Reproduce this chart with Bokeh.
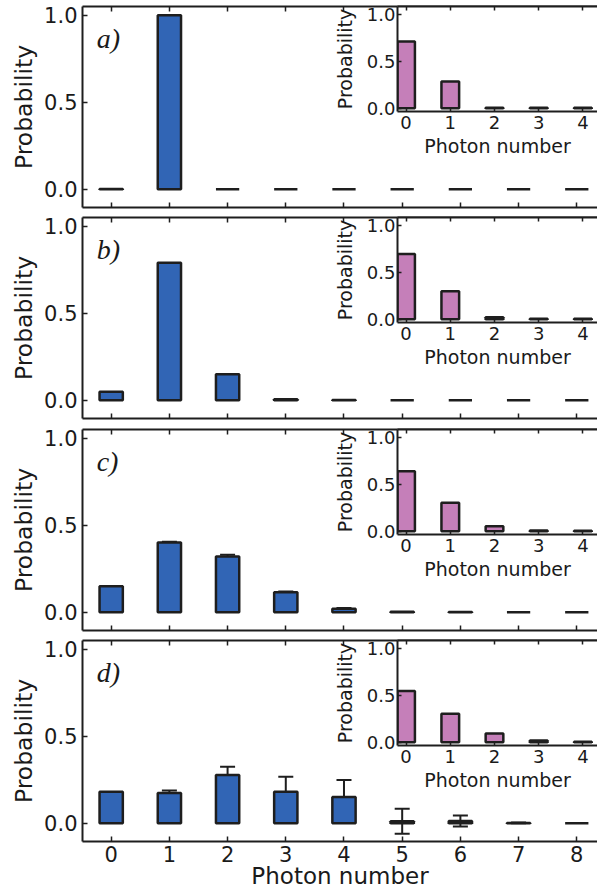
from bokeh.plotting import figure
from bokeh.models import (Range1d, LinearAxis, FixedTicker, Label, ColumnDataSource,
                          Whisker, TeeHead, GridBox, NumeralTickFormatter)
from bokeh.embed import file_html
from bokeh.resources import INLINE

# ---------------- data ----------------
photon = [0, 1, 2, 3, 4, 5, 6, 7, 8]
photon_inset = [0, 1, 2, 3, 4]

prob_a = [0.002, 1.0, 0.0, 0.0, 0.0, 0.0, 0.0, 0.0, 0.0]
err_a = [0, 0, 0, 0, 0, 0, 0, 0, 0]
inset_a = [0.714, 0.286, 0.004, 0.004, 0.004]

prob_b = [0.048, 0.79, 0.149, 0.006, 0.002, 0.0, 0.0, 0.0, 0.0]
err_b = [0, 0, 0, 0, 0, 0, 0, 0, 0]
inset_b = [0.70, 0.30, 0.022, 0.006, 0.005]

prob_c = [0.149, 0.40, 0.32, 0.115, 0.02, 0.003, 0.002, 0.0, 0.0]
err_c = [0, 0.005, 0.01, 0.004, 0.005, 0, 0, 0, 0]
inset_c = [0.643, 0.304, 0.054, 0.008, 0.005]

prob_d = [0.181, 0.174, 0.277, 0.181, 0.151, 0.011, 0.013, 0.002, 0.0]
err_d = [0, 0.014, 0.048, 0.086, 0.098, 0.072, 0.032, 0.002, 0]
inset_d = [0.55, 0.304, 0.093, 0.018, 0.006]

panel_tags = ["a)", "b)", "c)", "d)"]
y_ticks = [0, 0.5, 1.0]
x_label = "Photon number"
y_label = "Probability"

# ---------------- style ----------------
BLUE = "#3165b5"
PINK = "#c57fb9"
EDGE = "#1e1e1e"
TXT = "#1a1a1a"
FONT = "DejaVu Sans"

MAIN_W = 597
FRAME_H = 201
INSET_LEFT = 66
INSET_W = 597 - (396 - INSET_LEFT)
INSET_FRAME_H = 105
INSET_BOTTOM = 50
COL0 = MAIN_W - INSET_W

# (top border, bottom border) of each main panel, in px
borders = [(6, 5), (5, 5), (6, 5), (5, 53)]


def style_axis(ax, tick_in, font_px, show_labels=True, lw=2):
    ax.major_tick_in = tick_in
    ax.major_tick_out = 0
    ax.minor_tick_line_color = None
    ax.major_tick_line_color = EDGE
    ax.major_tick_line_width = 1.5
    ax.axis_line_color = EDGE
    ax.axis_line_width = lw
    ax.major_label_text_font = FONT
    ax.major_label_text_color = TXT
    ax.axis_label_text_font = FONT
    ax.axis_label_text_color = TXT
    ax.axis_label_text_font_style = "normal"
    if show_labels:
        ax.major_label_text_font_size = f"{font_px}px"
    else:
        ax.major_label_text_font_size = "1px"
        ax.major_label_text_color = None
        ax.major_label_standoff = 0


def main_panel(vals, errs, tag, top_b, bot_b, last):
    h = top_b + FRAME_H + bot_b
    p = figure(width=MAIN_W, height=h,
               x_range=Range1d(-0.493, 8.356), y_range=Range1d(-0.105, 1.05),
               output_backend="svg", toolbar_location=None,
               min_border_left=82, min_border_right=0, min_border_top=top_b,
               min_border_bottom=bot_b)
    p.outline_line_color = None
    p.grid.visible = False
    p.background_fill_color = "white"
    p.border_fill_color = "white"

    p.vbar(x=photon, top=vals, bottom=0, width=0.4, fill_color=BLUE,
           line_color=EDGE, line_width=2.5)

    xs = [x for x, e in zip(photon, errs) if e > 0]
    up = [v + e for v, e in zip(vals, errs) if e > 0]
    lo = [v - e for v, e in zip(vals, errs) if e > 0]
    if xs:
        src = ColumnDataSource(dict(x=xs, u=up, l=lo))
        w = Whisker(source=src, base="x", upper="u", lower="l",
                    line_color=EDGE, line_width=2,
                    upper_head=TeeHead(size=15, line_color=EDGE, line_width=2),
                    lower_head=TeeHead(size=15, line_color=EDGE, line_width=2))
        p.add_layout(w)

    xa = p.xaxis[0]
    xa.ticker = FixedTicker(ticks=photon)
    style_axis(xa, 5, 21, show_labels=last)
    if last:
        xa.axis_label = x_label
        xa.axis_label_text_font_size = "23px"
        xa.major_label_standoff = 4
        xa.axis_label_standoff = -2

    ya = p.yaxis[0]
    ya.ticker = FixedTicker(ticks=y_ticks)
    ya.formatter = NumeralTickFormatter(format="0.0")
    style_axis(ya, 5, 21)
    ya.major_label_standoff = 5
    ya.axis_label = y_label
    ya.axis_label_text_font_size = "23.5px"
    ya.axis_label_standoff = 3

    top = LinearAxis(ticker=FixedTicker(ticks=photon))
    style_axis(top, 5, 0, show_labels=False)
    p.add_layout(top, "above")

    p.add_layout(Label(x=-0.25, y=0.865, text=tag, text_font="Liberation Serif",
                       text_font_style="italic", text_font_size="28px",
                       text_color=TXT, text_baseline="alphabetic"))
    return p, h


def inset_panel(vals, top_b):
    h = top_b + INSET_FRAME_H + INSET_BOTTOM
    q = figure(width=INSET_W, height=h,
               x_range=Range1d(-0.194, 4.33), y_range=Range1d(-0.035, 1.09),
               output_backend="svg", toolbar_location=None,
               min_border_left=INSET_LEFT, min_border_right=0, min_border_top=top_b,
               min_border_bottom=INSET_BOTTOM)
    q.outline_line_color = None
    q.grid.visible = False
    q.background_fill_color = "white"
    q.border_fill_color = None

    q.vbar(x=photon_inset, top=vals, bottom=0, width=0.4, fill_color=PINK,
           line_color=EDGE, line_width=2.5)

    xa = q.xaxis[0]
    xa.ticker = FixedTicker(ticks=photon_inset)
    style_axis(xa, 4, 18)
    xa.major_label_standoff = 4
    xa.axis_label = x_label
    xa.axis_label_text_font_size = "19px"
    xa.axis_label_standoff = 3

    ya = q.yaxis[0]
    ya.ticker = FixedTicker(ticks=y_ticks)
    ya.formatter = NumeralTickFormatter(format="0.0")
    style_axis(ya, 4, 18)
    ya.major_label_standoff = 2
    ya.axis_label = y_label
    ya.axis_label_text_font_size = "19px"
    ya.axis_label_standoff = 8

    top = LinearAxis(ticker=FixedTicker(ticks=photon_inset))
    style_axis(top, 4, 0, show_labels=False)
    q.add_layout(top, "above")
    return q, h


main_vals = [prob_a, prob_b, prob_c, prob_d]
main_errs = [err_a, err_b, err_c, err_d]
inset_vals = [inset_a, inset_b, inset_c, inset_d]

children = []
rows = []
for i in range(4):
    tb, bb = borders[i]
    mp, mh = main_panel(main_vals[i], main_errs[i], panel_tags[i], tb, bb, i == 3)
    ip, ih = inset_panel(inset_vals[i], tb)
    children.append((mp, 2 * i, 0, 2, 2))
    children.append((ip, 2 * i, 1, 1, 1))
    rows += [f"{ih}px", f"{mh - ih}px"]

grid = GridBox(children=children, rows=rows, cols=[f"{COL0}px", f"{INSET_W}px"], spacing=0)

open("out.html", "w").write(file_html(grid, INLINE))
